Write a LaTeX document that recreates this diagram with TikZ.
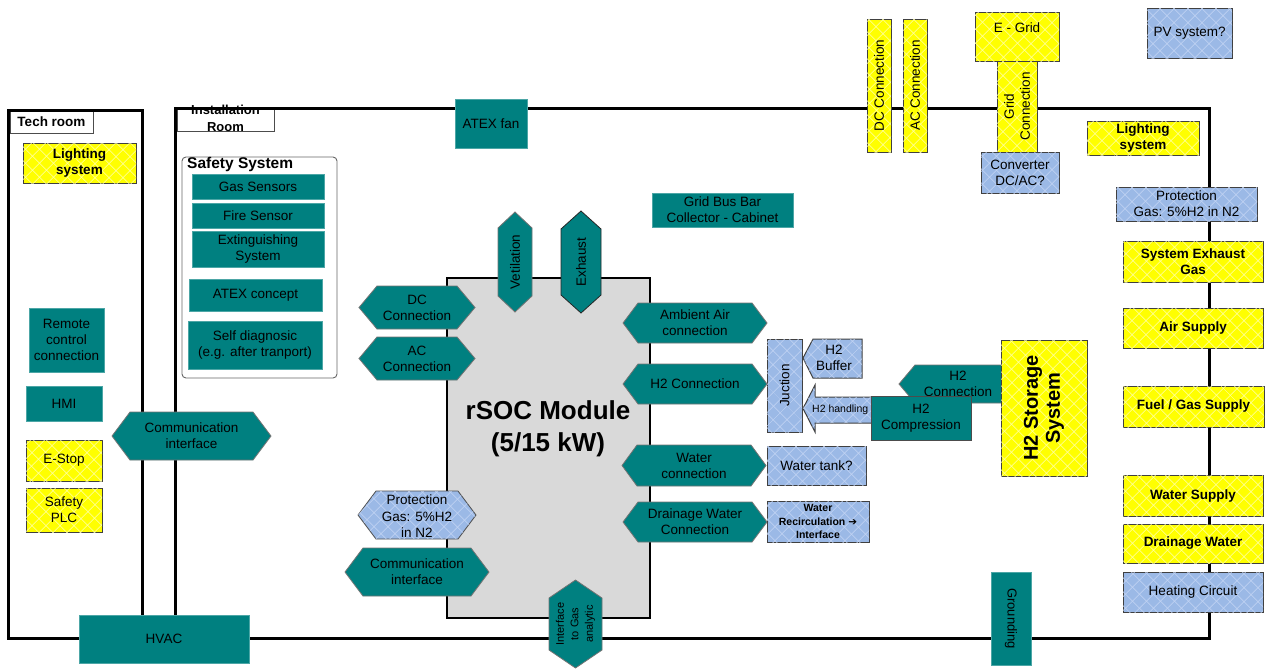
\documentclass[tikz,border=0pt]{standalone}
\usepackage{fontspec}
\setmainfont{Liberation Sans}
\newfontfamily\arrowfont{DejaVu Sans}
\usetikzlibrary{patterns.meta}

\definecolor{tealc}{RGB}{0,128,128}
\definecolor{yel}{RGB}{255,255,0}
\definecolor{yelhatch}{RGB}{255,255,170}
\definecolor{bluec}{RGB}{155,185,230}
\definecolor{bluehatch}{RGB}{196,213,244}
\definecolor{modgray}{RGB}{217,217,217}

% horizontal hexagon: style, x1, y1, x2, y2, tip length
\newcommand\hexH[6]{\path[#1] (#2,{(#3+#5)/2}) -- ({#2+#6},#3) -- ({#4-#6},#3) -- (#4,{(#3+#5)/2}) -- ({#4-#6},#5) -- ({#2+#6},#5) -- cycle;}
% vertical hexagon: style, x1, y1, x2, y2, tip length
\newcommand\hexV[6]{\path[#1] ({(#2+#4)/2},#3) -- (#4,{#3+#6}) -- (#4,{#5-#6}) -- ({(#2+#4)/2},#5) -- (#2,{#5-#6}) -- (#2,{#3+#6}) -- cycle;}

\tikzset{
  every node/.style={font=\fontsize{13.5}{16}\selectfont, align=center, inner sep=0pt, text=black},
  hatch/.style={postaction={pattern={Lines[angle=45,distance=10.5pt,line width=.8pt]},pattern color=#1},
                postaction={pattern={Lines[angle=-45,distance=10.5pt,line width=.8pt]},pattern color=#1}},
  tealbox/.style={fill=tealc, draw=tealc!70!white, line width=.8pt},
  yelbox/.style={fill=yel, draw=black!75, line width=1pt, hatch=yelhatch},
  bluebox/.style={fill=bluec, draw=black!75, line width=1pt, hatch=bluehatch},
  tealhex/.style={fill=tealc, draw=black!55, line width=.8pt},
  bluehex/.style={fill=bluec, draw=black!70, line width=.8pt, hatch=bluehatch},
  wall/.style={draw=black, line width=3pt},
  bold/.style={font=\fontsize{13.5}{16}\selectfont\bfseries},
  sz/.style 2 args={minimum width=#1, minimum height=#2},
}

\begin{document}
\begin{tikzpicture}[x=1pt,y=-1pt]
\useasboundingbox (0,0) rectangle (1266,670);
\fill[white] (0,0) rectangle (1266,670);

% room name tags
\node[draw=black!70, fill=white, line width=.8pt, sz={83}{22}, bold] (techlbl) at (51.5,122) {Tech room};
\node[draw=black!70, fill=white, line width=.8pt, sz={97}{23}] (instlbl) at (225.5,119.5) {};
\node[font=\fontsize{13}{16.5}\selectfont\bfseries] (insttxt) at (225.5,118.5) {Installation\\Room};

% room walls
\draw[wall] (8,110) rectangle (142,638);
\draw[wall] (175,108) rectangle (1209,638);

% tech room
\node[yelbox, bold, sz={113}{40}] (lightl) at (79.5,163) {Lighting\\system};
\node[tealbox, sz={75}{64}] (remote) at (66.5,340) {Remote\\control\\connection};
\node[tealbox, sz={76}{35}] (hmi) at (64,403.5) {HMI};
\node[yelbox, sz={76}{41}] (estop) at (64,460.5) {E-Stop};
\node[yelbox, sz={76}{44}] (plc) at (64,510) {Safety\\PLC};
\hexH{tealhex}{112}{412}{271}{460}{18}
\node (commleft) at (191.5,436) {Communication\\interface};
\node[tealbox, sz={170}{48}] (hvac) at (164,639) {HVAC};

% safety system
\node[draw=black!60, fill=white, line width=.9pt, rounded corners=4pt, sz={155}{221}] (safety) at (259.5,267.5) {};
\node[anchor=west, font=\fontsize{15.5}{18}\selectfont\bfseries] (safetytitle) at (187,164) {Safety System};
\node[tealbox, sz={132}{25}] (gas) at (258,186.5) {Gas Sensors};
\node[tealbox, sz={132}{25}] (fire) at (258,215.5) {Fire Sensor};
\node[tealbox, sz={132}{36}] (ext) at (258,249) {Extinguishing\\System};
\node[tealbox, sz={133}{32}] (atexc) at (255.5,295) {ATEX concept};
\node[tealbox, sz={134}{48}] (selfd) at (255,345) {Self diagnosic\\(e.g. after tranport)};

% installation room top
\node[tealbox, sz={72}{49}] (atexfan) at (491,123.5) {ATEX fan};
\node[tealbox, sz={141}{34}] (busbar) at (722.5,210) {Grid Bus Bar\\Collector - Cabinet};

% rSOC module
\node[fill=modgray, draw=black, line width=1.2pt, sz={203}{340}] (rsoc) at (548.5,448) {};
\node[font=\fontsize{26}{32}\selectfont\bfseries] (rsoctitle) at (548,429) {rSOC Module\\(5/15 kW)};

\hexV{tealhex}{498}{212}{532}{312}{16}
\node[rotate=90] (vent) at (515,262) {Vetilation};
\hexV{tealhex, draw=black!85}{561}{211}{601}{313}{18}
\node[rotate=90] (exhaust) at (581,262) {Exhaust};

\hexH{tealhex}{359}{286}{475}{329}{18}
\node (dcmod) at (417,307.5) {DC\\Connection};
\hexH{tealhex}{359}{337}{475}{380}{18}
\node (acmod) at (417,358.5) {AC\\Connection};
\hexH{bluehex}{358}{491}{476}{539}{18}
\node[font=\fontsize{13.5}{16.5}\selectfont] (protl) at (417,516.5) {Protection\\Gas: 5\%H2\\in N2};
\hexH{tealhex}{345}{548}{489}{596}{18}
\node (commmod) at (417,572) {Communication\\interface};
\hexV{tealhex}{549}{580}{602}{668}{18}
\node[rotate=90, font=\fontsize{11}{14.5}\selectfont] (gasan) at (575.5,624) {Interface\\to Gas\\analytic};

\hexH{tealhex}{623}{303}{767}{343}{15}
\node (ambient) at (695,323) {Ambient Air\\connection};
\hexH{tealhex}{623}{364}{767}{404}{15}
\node (h2mod) at (695,384) {H2 Connection};
\hexH{tealhex}{622}{445}{766}{486}{15}
\node (watermod) at (694,465.5) {Water\\connection};
\hexH{tealhex}{623}{502}{767}{542}{15}
\node (drainmod) at (695,522) {Drainage Water\\Connection};

% hydrogen path
\node[bluebox, rotate=90, sz={93}{35}] (junction) at (784.5,385.5) {Juction};
\path[bluebox] (803,358) -- (813,339) -- (862,339) -- (862,378) -- (813,378) -- cycle;
\node (buffer) at (834,358) {H2\\Buffer};
\path[bluebox] (803,408.5) -- (815,385) -- (815,397) -- (880,397) -- (880,423) -- (815,423) -- (815,432) -- cycle;
\node[anchor=west, font=\fontsize{10.5}{12}\selectfont] (h2hand) at (812,410) {H2 handling};
\hexH{tealhex}{899}{365}{1017}{403}{16}
\node (h2conr) at (958,384) {H2\\Connection};
\node[tealbox, draw=black!70, sz={100}{44}] (compr) at (921,418) {H2\\Compression};
\node[yelbox, rotate=90, sz={136}{86}, font=\fontsize{20}{22}\selectfont\bfseries] (h2stor) at (1044,408) {H2 Storage\\System};

\node[bluebox, sz={99}{39}] (tank) at (816.5,465.5) {Water tank?};
\node[bluebox, sz={102}{41}, font=\fontsize{10.5}{13.5}\selectfont\bfseries] (recirc) at (818,521.5) {Water\\Recirculation {\arrowfont\bfseries ➔}\\Interface};

% grid side
\node[yelbox, rotate=90, sz={133}{24}] (dctop) at (879,85.5) {DC Connection};
\node[yelbox, rotate=90, sz={133}{24}] (actop) at (915,85.5) {AC Connection};
\node[yelbox, sz={84}{49}] (egrid) at (1017,36.5) {};
\node (egridtxt) at (1017,28) {E - Grid};
\node[yelbox, rotate=90, sz={91}{40}] (gridconn) at (1017,106.5) {Grid\\Connection};
\node[bluebox, sz={78}{41}] (conv) at (1020,172.5) {Converter\\DC/AC?};
\node[bluebox, sz={85}{50}] (pv) at (1189.5,33) {PV system?};

% media column
\node[yelbox, bold, sz={112}{34}] (lightr) at (1143,138) {Lighting\\system};
\node[bluebox, sz={141}{34}] (protr) at (1186.5,204) {Protection\\Gas: 5\%H2 in N2};
\node[yelbox, bold, sz={140}{41}] (sysexh) at (1193,261.5) {System Exhaust\\Gas};
\node[yelbox, bold, sz={140}{40}] (air) at (1193,328) {Air Supply};
\node[yelbox, bold, sz={141}{41}] (fuel) at (1193.5,406.5) {Fuel / Gas Supply};
\node[yelbox, bold, sz={140}{41}] (water) at (1193,495.5) {Water Supply};
\node[yelbox, bold, sz={140}{39}] (drain) at (1193,543.5) {Drainage Water};
\node[bluebox, sz={140}{40}] (heat) at (1193,592) {Heating Circuit};
\node[tealbox, rotate=-90, sz={93}{40}, font=\fontsize{13}{16}\selectfont] (ground) at (1011,618.5) {Grounding};
\end{tikzpicture}
\end{document}
